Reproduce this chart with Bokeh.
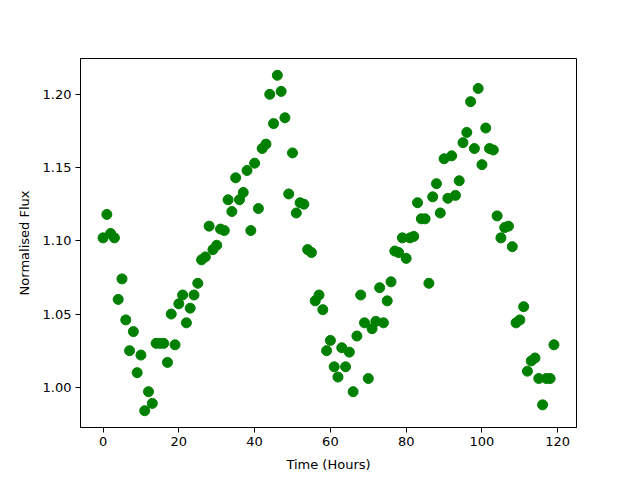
from bokeh.plotting import figure
from bokeh.models import Range1d, FixedTicker, NumeralTickFormatter, ColumnDataSource
from bokeh.embed import file_html
from bokeh.resources import INLINE

time_hours = list(range(120))
flux = [
    1.102, 1.118, 1.105, 1.102, 1.060, 1.074, 1.046, 1.025, 1.038, 1.010,
    1.022, 0.984, 0.997, 0.989, 1.030, 1.030, 1.030, 1.017, 1.050, 1.029,
    1.057, 1.063, 1.044, 1.054, 1.063, 1.071, 1.087, 1.089, 1.110, 1.094,
    1.097, 1.108, 1.107, 1.128, 1.120, 1.143, 1.128, 1.133, 1.148, 1.107,
    1.153, 1.122, 1.163, 1.166, 1.200, 1.180, 1.213, 1.202, 1.184, 1.132,
    1.160, 1.119, 1.126, 1.125, 1.094, 1.092, 1.059, 1.063, 1.053, 1.025,
    1.032, 1.014, 1.007, 1.027, 1.014, 1.024, 0.997, 1.035, 1.063, 1.044,
    1.006, 1.040, 1.045, 1.068, 1.044, 1.059, 1.072, 1.093, 1.092, 1.102,
    1.088, 1.102, 1.103, 1.126, 1.115, 1.115, 1.071, 1.130, 1.139, 1.119,
    1.156, 1.129, 1.158, 1.131, 1.141, 1.167, 1.174, 1.195, 1.163, 1.204,
    1.152, 1.177, 1.163, 1.162, 1.117, 1.102, 1.109, 1.110, 1.096, 1.044,
    1.046, 1.055, 1.011, 1.018, 1.020, 1.006, 0.988, 1.006, 1.006, 1.029,
]
x_ticks = [0, 20, 40, 60, 80, 100, 120]
y_ticks = [1.00, 1.05, 1.10, 1.15, 1.20]

src = ColumnDataSource(dict(x=time_hours, y=flux))

xmin, xmax = min(time_hours), max(time_hours)
ymin, ymax = min(flux), max(flux)
xm = (xmax - xmin) * 0.05
ym = (ymax - ymin) * 0.05

p = figure(width=632, height=472, output_backend="svg", toolbar_location=None,
           x_range=Range1d(xmin - xm, xmax + xm), y_range=Range1d(ymin - ym, ymax + ym),
           min_border_left=80, min_border_right=56, min_border_top=58, min_border_bottom=45)
p.frame_width = 496
p.frame_height = 369

p.scatter("x", "y", source=src, size=10, fill_color="#008000", line_color="#008000")

p.xgrid.visible = False
p.ygrid.visible = False
p.outline_line_color = "black"
p.outline_line_width = 1
p.outline_line_alpha = 1

p.xaxis.ticker = FixedTicker(ticks=x_ticks)
p.yaxis.ticker = FixedTicker(ticks=y_ticks)
p.yaxis.formatter = NumeralTickFormatter(format="0.00")
p.xaxis.axis_label = "Time (Hours)"
p.yaxis.axis_label = "Normalised Flux"
for ax in (p.xaxis[0], p.yaxis[0]):
    ax.axis_label_text_font_style = "normal"
    ax.axis_label_text_font = "DejaVu Sans"
    ax.axis_label_text_font_size = "13px"
    ax.major_label_text_font = "DejaVu Sans"
    ax.major_label_text_font_size = "13px"
    ax.major_label_text_color = "black"
    ax.axis_label_text_color = "black"
    ax.minor_tick_line_color = None
    ax.major_tick_in = 0
    ax.major_tick_out = 5
    ax.major_tick_line_color = "black"
    ax.axis_line_color = "black"
    ax.axis_label_standoff = 8
    ax.major_label_standoff = 4

open("out.html", "w").write(file_html(p, INLINE))
